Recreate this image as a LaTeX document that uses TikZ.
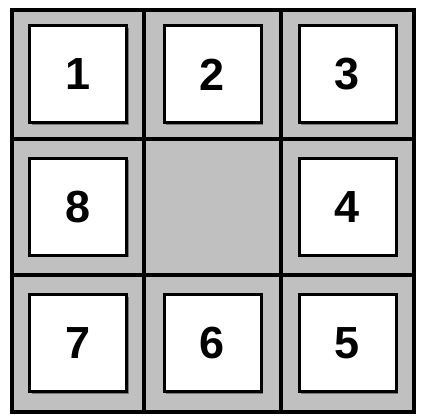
\documentclass[tikz,border=0pt]{standalone}
\usepackage{fontspec}
\setmainfont{Liberation Sans}
\begin{document}
\begin{tikzpicture}[x=1pt,y=1pt,
  tile/.style={draw=black,line width=3pt,fill=white,minimum width=97pt,minimum height=97pt,inner sep=0pt,
    font=\fontsize{45}{45}\selectfont\bfseries},
]
\definecolor{gridgray}{RGB}{192,192,192}
\definecolor{shadowgray}{RGB}{120,120,120}
\useasboundingbox (0,0) rectangle (424,420);
\fill[white] (0,0) rectangle (424,420);
% grid
\fill[gridgray] (12,8) rectangle (414,410);
\foreach \x in {144,281} \draw[line width=4pt] (\x,8) -- (\x,410);
\foreach \y in {281,145} \draw[line width=4pt] (12,\y) -- (414,\y);
\draw[line width=4pt] (12,8) rectangle (414,410);
% shadows
\foreach \cx/\cy in {78/345.5,212.5/345.5,347.5/345.5,78/213,347.5/213,78/76.5,212.5/76.5,347.5/76.5}
  \fill[shadowgray] (\cx-48.5+2,\cy-48.5-2) rectangle (\cx+48.5+2,\cy+48.5-2);
% tiles
\node[tile] (t1) at (78,345.5) {1};
\node[tile] (t2) at (212.5,345.5) {2};
\node[tile] (t3) at (347.5,345.5) {3};
\node[tile] (t8) at (78,213) {8};
\node[tile] (t4) at (347.5,213) {4};
\node[tile] (t7) at (78,76.5) {7};
\node[tile] (t6) at (212.5,76.5) {6};
\node[tile] (t5) at (347.5,76.5) {5};
\end{tikzpicture}
\end{document}
